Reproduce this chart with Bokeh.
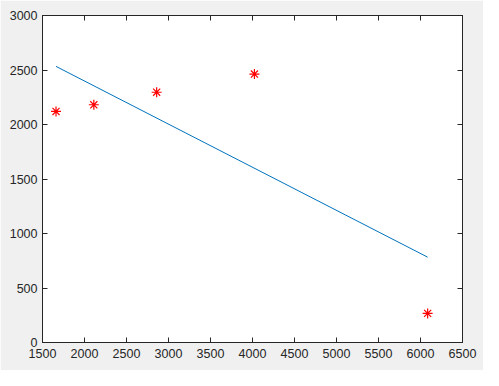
from bokeh.plotting import figure
from bokeh.models import LinearAxis, FixedTicker, Range1d
from bokeh.embed import file_html
from bokeh.resources import INLINE

# Data
pts_x = [1661, 2111, 2859, 4023, 6085]
pts_y = [2120, 2181, 2296, 2463, 267]
fit_x = [1661, 6085]
fit_y = [2533, 783]

x_ticks = [1500, 2000, 2500, 3000, 3500, 4000, 4500, 5000, 5500, 6000, 6500]
y_ticks = [0, 500, 1000, 1500, 2000, 2500, 3000]

FONT = "Liberation Sans"
TXT = "#262626"

p = figure(width=483, height=370, output_backend="svg", toolbar_location=None,
           x_range=Range1d(1500, 6500), y_range=Range1d(0, 3000),
           min_border_left=42, min_border_top=15, min_border_right=21, min_border_bottom=28,
           x_axis_location=None, y_axis_location=None)
p.background_fill_color = "white"
p.border_fill_color = "#f0f0f0"
p.outline_line_color = TXT
p.outline_line_width = 1
p.xgrid.visible = False
p.ygrid.visible = False


def make_axis(ticks, labels=True):
    ax = LinearAxis(ticker=FixedTicker(ticks=ticks))
    ax.axis_line_color = TXT
    ax.major_tick_line_color = TXT
    ax.major_tick_in = 5
    ax.major_tick_out = 0
    ax.minor_tick_line_color = None
    ax.major_label_text_font = FONT
    ax.major_label_text_font_size = "12.5px"
    ax.major_label_text_color = TXT if labels else None
    ax.major_label_standoff = 4
    return ax

xb = make_axis(x_ticks)
xb.major_label_standoff = 6
p.add_layout(xb, "below")
yl = make_axis(y_ticks)
yl.major_label_standoff = 5
p.add_layout(yl, "left")
xt = make_axis(x_ticks, labels=False)
xt.major_label_text_font_size = "0px"
xt.major_label_standoff = 0
p.add_layout(xt, "above")
yr = make_axis(y_ticks, labels=False)
yr.major_label_text_font_size = "0px"
yr.major_label_standoff = 0
p.add_layout(yr, "right")

p.line(fit_x, fit_y, line_color="#0072BD", line_width=1)
p.scatter(pts_x, pts_y, marker="asterisk", size=10, line_color="#FF0000", line_width=1.2)

open("out.html", "w").write(file_html(p, INLINE))
